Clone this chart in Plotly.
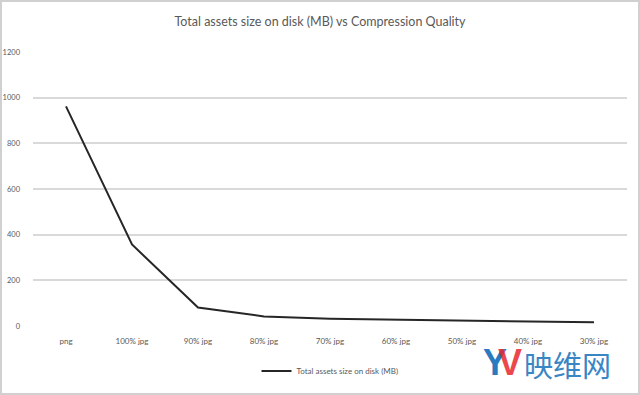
import plotly.graph_objects as go

categories = ["png", "100% jpg", "90% jpg", "80% jpg", "70% jpg", "60% jpg", "50% jpg", "40% jpg", "30% jpg"]
sizes_mb = [962, 357, 81, 42, 32, 28, 24, 20, 16]
series_name = "Total assets size on disk (MB)"
y_ticks = [0, 200, 400, 600, 800, 1000, 1200]

W, H = 640, 395
ml, mr, mt, mb = 33, 13, 52, 69
pw, ph = W - ml - mr, H - mt - mb

fig = go.Figure()
fig.add_trace(go.Scatter(
    x=categories, y=sizes_mb, mode="lines", name=series_name,
    line=dict(color="#262626", width=2),
))

fnt = "Lato, 'Open Sans', sans-serif"
fig.update_layout(
    width=W, height=H,
    margin=dict(l=ml, r=mr, t=mt, b=mb, autoexpand=False),
    paper_bgcolor="white", plot_bgcolor="white",
    font=dict(family=fnt, color="#595959", size=8),
    title=dict(text="Total assets size on disk (MB) vs Compression Quality",
               x=0.5, xanchor="center", y=1 - 22 / H, yanchor="middle",
               font=dict(size=12.5, color="#595959", family=fnt)),
    showlegend=True,
    legend=dict(orientation="h", x=0.5, xanchor="center",
                y=-45 / ph, yanchor="middle", itemwidth=30,
                font=dict(size=8, color="#595959", family=fnt),
                bgcolor="rgba(0,0,0,0)"),
    xaxis=dict(type="category", showgrid=False, showline=False, zeroline=False,
               ticks="", tickfont=dict(size=8, color="#595959"), automargin=False,
               ticklabelstandoff=9, range=[-0.5, len(categories) - 0.5]),
    yaxis=dict(range=[0, 1200], tickvals=y_ticks, showgrid=True, automargin=False,
               gridcolor="#d9d9d9", gridwidth=1.5, zeroline=False, showline=False,
               ticks="", tickfont=dict(size=7.5, color="#595959"),
               ticklabelstandoff=12),
)

# image border
fig.add_shape(type="rect", xref="paper", yref="paper",
              x0=(-ml + 1) / pw, x1=(pw + mr - 1) / pw,
              y0=(-mb + 1) / ph, y1=(ph + mt - 1) / ph,
              line=dict(color="#d0d0d0", width=2), fillcolor="rgba(0,0,0,0)", layer="below")

# watermark
def py(y):
    return -(y - mt - ph) / ph

def px(x):
    return (x - ml) / pw

common = dict(xref="paper", yref="paper", showarrow=False, xanchor="center", yanchor="middle")
fig.add_annotation(text="<b>Y</b>", x=px(495), y=py(362),
                   font=dict(size=36, color="#2a7abf", family="Liberation Sans"), **common)
fig.add_annotation(text="<b>V</b>", x=px(510), y=py(362),
                   font=dict(size=36, color="rgba(232,38,45,0.85)", family="Liberation Sans"), **common)
fig.add_annotation(text="映维网", x=px(567), y=py(364),
                   font=dict(size=29, color="#3a86c4", family="Noto Sans CJK SC"), **common)

fig.write_html("out.html", config={"displayModeBar": False},
               post_script="document.body.style.margin='0px';")
